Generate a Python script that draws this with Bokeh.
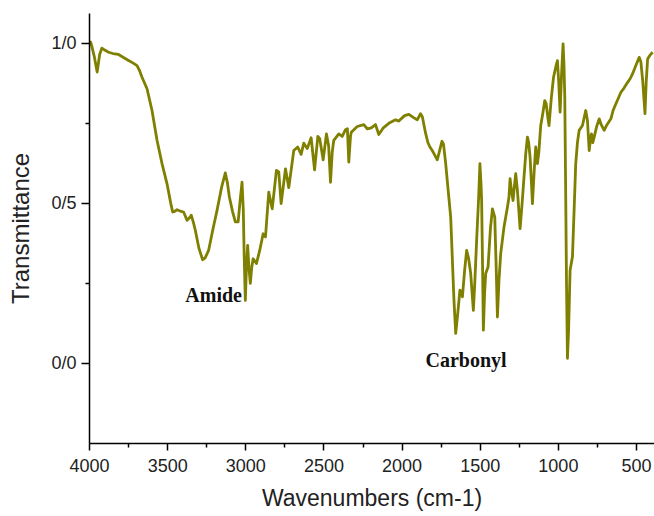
from bokeh.plotting import figure
from bokeh.models import Range1d, FixedTicker, Label
from bokeh.embed import file_html
from bokeh.resources import INLINE

# FTIR spectrum: wavenumber (cm-1) and transmittance
wavenumber = [
    4000, 3992, 3985, 3970, 3951, 3935, 3921, 3900, 3878, 3850, 3814, 3780,
    3750, 3720, 3696, 3680, 3664, 3632, 3600, 3568, 3536, 3504, 3480, 3468,
    3455, 3440, 3420, 3398, 3376, 3360, 3349, 3335, 3323, 3300, 3276, 3260,
    3238, 3210, 3184, 3155, 3131, 3118, 3105, 3085, 3067, 3049, 3038, 3024,
    3016, 3010, 3003, 2996, 2988, 2980, 2971, 2962, 2953, 2932, 2911, 2889,
    2874, 2853, 2831, 2804, 2789, 2774, 2746, 2725, 2693, 2668, 2646, 2629,
    2607, 2582, 2560, 2539, 2527, 2505, 2484, 2470, 2458, 2447, 2437, 2405,
    2383, 2362, 2350, 2341, 2330, 2325, 2287, 2245, 2223, 2197, 2170, 2149,
    2120, 2085, 2042, 2021, 1984, 1957, 1924, 1903, 1882, 1870, 1850, 1835,
    1822, 1807, 1790, 1775, 1760, 1745, 1735, 1721, 1705, 1689, 1668, 1657,
    1645, 1636, 1630, 1622, 1614, 1600, 1587, 1575, 1561, 1544, 1535, 1523,
    1510, 1502, 1495, 1491, 1485, 1480, 1472, 1465, 1450, 1435, 1422, 1407,
    1398, 1390, 1380, 1369, 1348, 1326, 1316, 1309, 1300, 1290, 1280, 1273,
    1262, 1245, 1232, 1220, 1208, 1198, 1190, 1181, 1172, 1166, 1155, 1145,
    1134, 1125, 1113, 1100, 1087, 1078, 1068, 1060, 1045, 1031, 1015, 1006,
    998, 989, 980, 970, 964, 959, 953, 948, 942, 935, 925, 910,
    900, 889, 878, 867, 846, 825, 814, 803, 795, 788, 780, 771,
    755, 739, 725, 707, 690, 664, 650, 632, 615, 600, 580, 557,
    540, 525, 505, 483, 478, 472, 460, 446, 438, 429, 415, 397,
]
transmittance = [
    1.005, 1.003, 0.990, 0.960, 0.910, 0.965, 0.985, 0.978, 0.972, 0.968, 0.965, 0.955,
    0.946, 0.938, 0.930, 0.915, 0.894, 0.858, 0.790, 0.697, 0.624, 0.561, 0.500, 0.473,
    0.475, 0.480, 0.476, 0.473, 0.447, 0.455, 0.463, 0.440, 0.416, 0.360, 0.324, 0.330,
    0.353, 0.420, 0.478, 0.550, 0.595, 0.565, 0.520, 0.475, 0.442, 0.442, 0.500, 0.566,
    0.480, 0.330, 0.197, 0.300, 0.369, 0.300, 0.250, 0.300, 0.327, 0.312, 0.353, 0.405,
    0.395, 0.535, 0.483, 0.603, 0.598, 0.499, 0.608, 0.549, 0.665, 0.676, 0.653, 0.688,
    0.671, 0.705, 0.605, 0.709, 0.702, 0.636, 0.717, 0.680, 0.566, 0.660, 0.697, 0.717,
    0.709, 0.730, 0.733, 0.629, 0.710, 0.722, 0.740, 0.746, 0.733, 0.736, 0.746, 0.715,
    0.736, 0.750, 0.761, 0.757, 0.774, 0.778, 0.767, 0.761, 0.780, 0.770, 0.720, 0.690,
    0.676, 0.665, 0.650, 0.636, 0.665, 0.694, 0.685, 0.624, 0.540, 0.457, 0.197, 0.094,
    0.150, 0.197, 0.229, 0.225, 0.208, 0.290, 0.353, 0.330, 0.281, 0.166, 0.250, 0.385,
    0.520, 0.624, 0.560, 0.509, 0.300, 0.104, 0.220, 0.281, 0.301, 0.420, 0.483, 0.457,
    0.300, 0.145, 0.260, 0.343, 0.426, 0.488, 0.520, 0.577, 0.540, 0.509, 0.560, 0.593,
    0.540, 0.421, 0.500, 0.582, 0.660, 0.707, 0.690, 0.644, 0.560, 0.499, 0.600, 0.676,
    0.624, 0.660, 0.743, 0.780, 0.821, 0.811, 0.770, 0.743, 0.830, 0.894, 0.930, 0.946,
    0.880, 0.785, 0.900, 0.998, 0.930, 0.832, 0.520, 0.250, 0.016, 0.100, 0.291, 0.333,
    0.470, 0.624, 0.690, 0.728, 0.743, 0.790, 0.759, 0.665, 0.700, 0.717, 0.690, 0.707,
    0.740, 0.764, 0.745, 0.728, 0.745, 0.764, 0.790, 0.811, 0.830, 0.847, 0.860, 0.878,
    0.890, 0.905, 0.930, 0.956, 0.950, 0.941, 0.880, 0.780, 0.880, 0.951, 0.962, 0.972,
]

x_ticks = [4000, 3500, 3000, 2500, 2000, 1500, 1000, 500]
x_minor_ticks = [3750, 3250, 2750, 2250, 1750, 1250, 750]
y_ticks = [0, 0.5, 1]
y_minor_ticks = [0.25, 0.75]
y_tick_labels = ["0/0", "0/5", "1/0"]

annotations = ["Amide", "Carbonyl"]
annotation_x = [3387, 1850]
annotation_y = [0.213, 0.010]

p = figure(
    width=654, height=516,
    x_range=Range1d(4000, 385), y_range=Range1d(-0.25, 1.093),
    output_backend="svg", toolbar_location=None,
    min_border_left=89, min_border_right=0,
    min_border_top=13, min_border_bottom=73,
)
p.outline_line_color = None
p.grid.visible = False

p.line(wavenumber, transmittance, line_color="#7f7f00", line_width=2.8,
       line_join="round")

for ax in (p.xaxis[0], p.yaxis[0]):
    ax.axis_line_color = "black"
    ax.axis_line_width = 1.5
    ax.major_tick_line_width = 1.5
    ax.minor_tick_line_width = 1.5
    ax.major_tick_in = 0
    ax.minor_tick_in = 0
    ax.major_label_text_font = "Liberation Sans"
    ax.major_label_text_font_size = "18px"
    ax.major_label_text_color = "#222222"
    ax.axis_label_text_font = "Liberation Sans"
    ax.axis_label_text_font_style = "normal"
    ax.axis_label_text_color = "#222222"

p.xaxis.ticker = FixedTicker(ticks=x_ticks, minor_ticks=x_minor_ticks)
p.xaxis.major_tick_out = 7
p.xaxis.minor_tick_out = 4
p.xaxis.major_label_standoff = 8
p.xaxis.axis_label = "Wavenumbers (cm-1)"
p.xaxis.axis_label_text_font_size = "23px"
p.xaxis.axis_label_standoff = 10

p.yaxis.ticker = FixedTicker(ticks=y_ticks, minor_ticks=y_minor_ticks)
p.yaxis.major_label_overrides = dict(zip(y_ticks, y_tick_labels))
p.yaxis.major_tick_out = 8
p.yaxis.minor_tick_out = 4
p.yaxis.major_label_standoff = 5
p.yaxis.axis_label = "Transmittance"
p.yaxis.axis_label_text_font_size = "24px"
p.yaxis.axis_label_standoff = 14

for txt, ax_, ay_ in zip(annotations, annotation_x, annotation_y):
    p.add_layout(Label(
        x=ax_, y=ay_, text=txt, text_align="left", text_baseline="alphabetic",
        text_font="Liberation Serif", text_font_style="bold",
        text_font_size="20px", text_color="#111111",
    ))

open("out.html", "w").write(file_html(p, INLINE))
